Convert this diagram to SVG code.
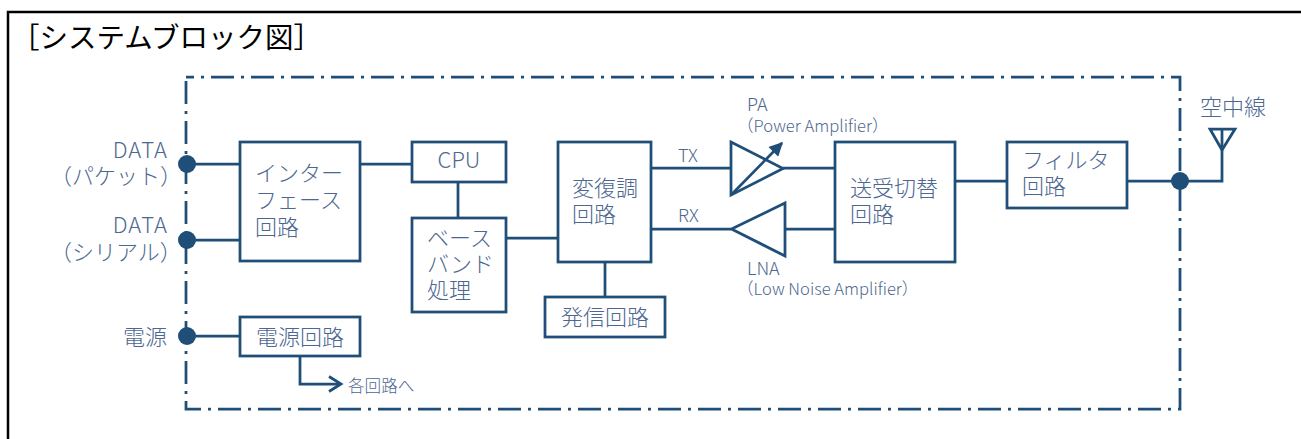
<svg xmlns="http://www.w3.org/2000/svg" width="1301" height="439" viewBox="0 0 1301 439">
<defs>
<style>
.box{fill:#fff;stroke:#1f4e79;stroke-width:2.75}
.ln{fill:none;stroke:#1f4e79;stroke-width:2.75}
.dot{fill:#1f4e79}
.t{font-family:"Noto Sans CJK JP","Noto Sans",sans-serif;fill:#4d6790;font-size:22px;font-weight:300}
.s{font-size:16.6px}
.m{font-size:18px}
.c{text-anchor:middle}
.e{text-anchor:end}
</style>
<marker id="ah" viewBox="0 0 10 10" refX="9" refY="5" markerWidth="6" markerHeight="5" orient="auto" markerUnits="strokeWidth">
<path d="M0,0 L10,5 L0,10 z" fill="#1f4e79"/>
</marker>
</defs>
<rect x="8" y="12" width="1300" height="440" fill="#fff" stroke="#000" stroke-width="2.5"/>
<text x="11" y="48" font-family="'Noto Sans CJK JP',sans-serif" font-size="28.5" fill="#000">［システムブロック図］</text>
<path d="M186,77 H1180 V409 H186 Z" fill="none" stroke="#1f4e79" stroke-width="2.75" stroke-dasharray="23 7 3 7" stroke-dashoffset="15"/>

<g id="connectors">
<path class="ln" d="M187,164 H240"/>
<path class="ln" d="M187,240 H240"/>
<path class="ln" d="M187,336 H240"/>
<path class="ln" d="M360,164 H412"/>
<path class="ln" d="M458,182 V218"/>
<path class="ln" d="M506,238 H558"/>
<path class="ln" d="M605,262 V297"/>
<path class="ln" d="M651,168 H731"/>
<path class="ln" d="M783,168 H835"/>
<path class="ln" d="M835,229 H785"/>
<path class="ln" d="M731,229 H651"/>
<path class="ln" d="M955,181 H1007"/>
<path class="ln" d="M1127,181 H1222 V129"/>
<path class="ln" d="M300,356 V384 H340"/>
<path class="ln" d="M329,376.5 L341,384 L329,391.5"/>
<circle class="dot" cx="187" cy="164" r="9"/>
<circle class="dot" cx="187" cy="240" r="9"/>
<circle class="dot" cx="187" cy="336" r="9"/>
<circle class="dot" cx="1180" cy="181" r="9"/>
<text class="t s" x="348" y="392">各回路へ</text>
<text class="t m" x="678" y="162">TX</text>
<text class="t m" x="678" y="222">RX</text>
</g>

<g id="in-packet">
<text class="t e" x="168" y="158" letter-spacing="1">DATA</text>
<text class="t" x="50" y="184">（パケット）</text>
</g>
<g id="in-serial">
<text class="t e" x="168" y="233" letter-spacing="1">DATA</text>
<text class="t" x="50" y="260">（シリアル）</text>
</g>
<g id="in-power">
<text class="t e" x="167" y="345" font-size="24">電源</text>
</g>

<g id="interface">
<rect class="box" x="240" y="142" width="120" height="119"/>
<text class="t" x="255" y="181">インター</text>
<text class="t" x="255" y="208">フェース</text>
<text class="t" x="255" y="235">回路</text>
</g>
<g id="power">
<rect class="box" x="240" y="317" width="120" height="39"/>
<text class="t c" x="300" y="345">電源回路</text>
</g>
<g id="cpu">
<rect class="box" x="412" y="142" width="94" height="40"/>
<text class="t c" x="459" y="168">CPU</text>
</g>
<g id="baseband">
<rect class="box" x="412" y="218" width="94" height="94"/>
<text class="t" x="427" y="246">ベース</text>
<text class="t" x="427" y="272">バンド</text>
<text class="t" x="427" y="298">処理</text>
</g>
<g id="modem">
<rect class="box" x="558" y="142" width="93" height="120"/>
<text class="t" x="572" y="196">変復調</text>
<text class="t" x="572" y="222">回路</text>
</g>
<g id="osc">
<rect class="box" x="545" y="297" width="120" height="40"/>
<text class="t c" x="605" y="325">発信回路</text>
</g>
<g id="pa">
<polygon class="ln" points="731,142 731,195 783,168.5"/>
<line class="ln" x1="732" y1="194" x2="782" y2="143" marker-end="url(#ah)"/>
<text class="t m" x="747" y="111">PA</text>
<text class="t s" x="737" y="132">（Power Amplifier）</text>
</g>
<g id="lna">
<polygon class="ln" points="785,203 785,256 731.5,229"/>
<text class="t m" x="747" y="275">LNA</text>
<text class="t s" x="737" y="295">（Low Noise Amplifier）</text>
</g>
<g id="switch">
<rect class="box" x="835" y="142" width="120" height="120"/>
<text class="t" x="850" y="196">送受切替</text>
<text class="t" x="850" y="222">回路</text>
</g>
<g id="filter">
<rect class="box" x="1007" y="142" width="120" height="66"/>
<text class="t" x="1022" y="168">フィルタ</text>
<text class="t" x="1022" y="194">回路</text>
</g>
<g id="antenna">
<path class="ln" d="M1210,129 H1235 L1222,150 Z"/>
<text class="t" x="1200" y="115" font-size="21">空中線</text>
</g>
</svg>
